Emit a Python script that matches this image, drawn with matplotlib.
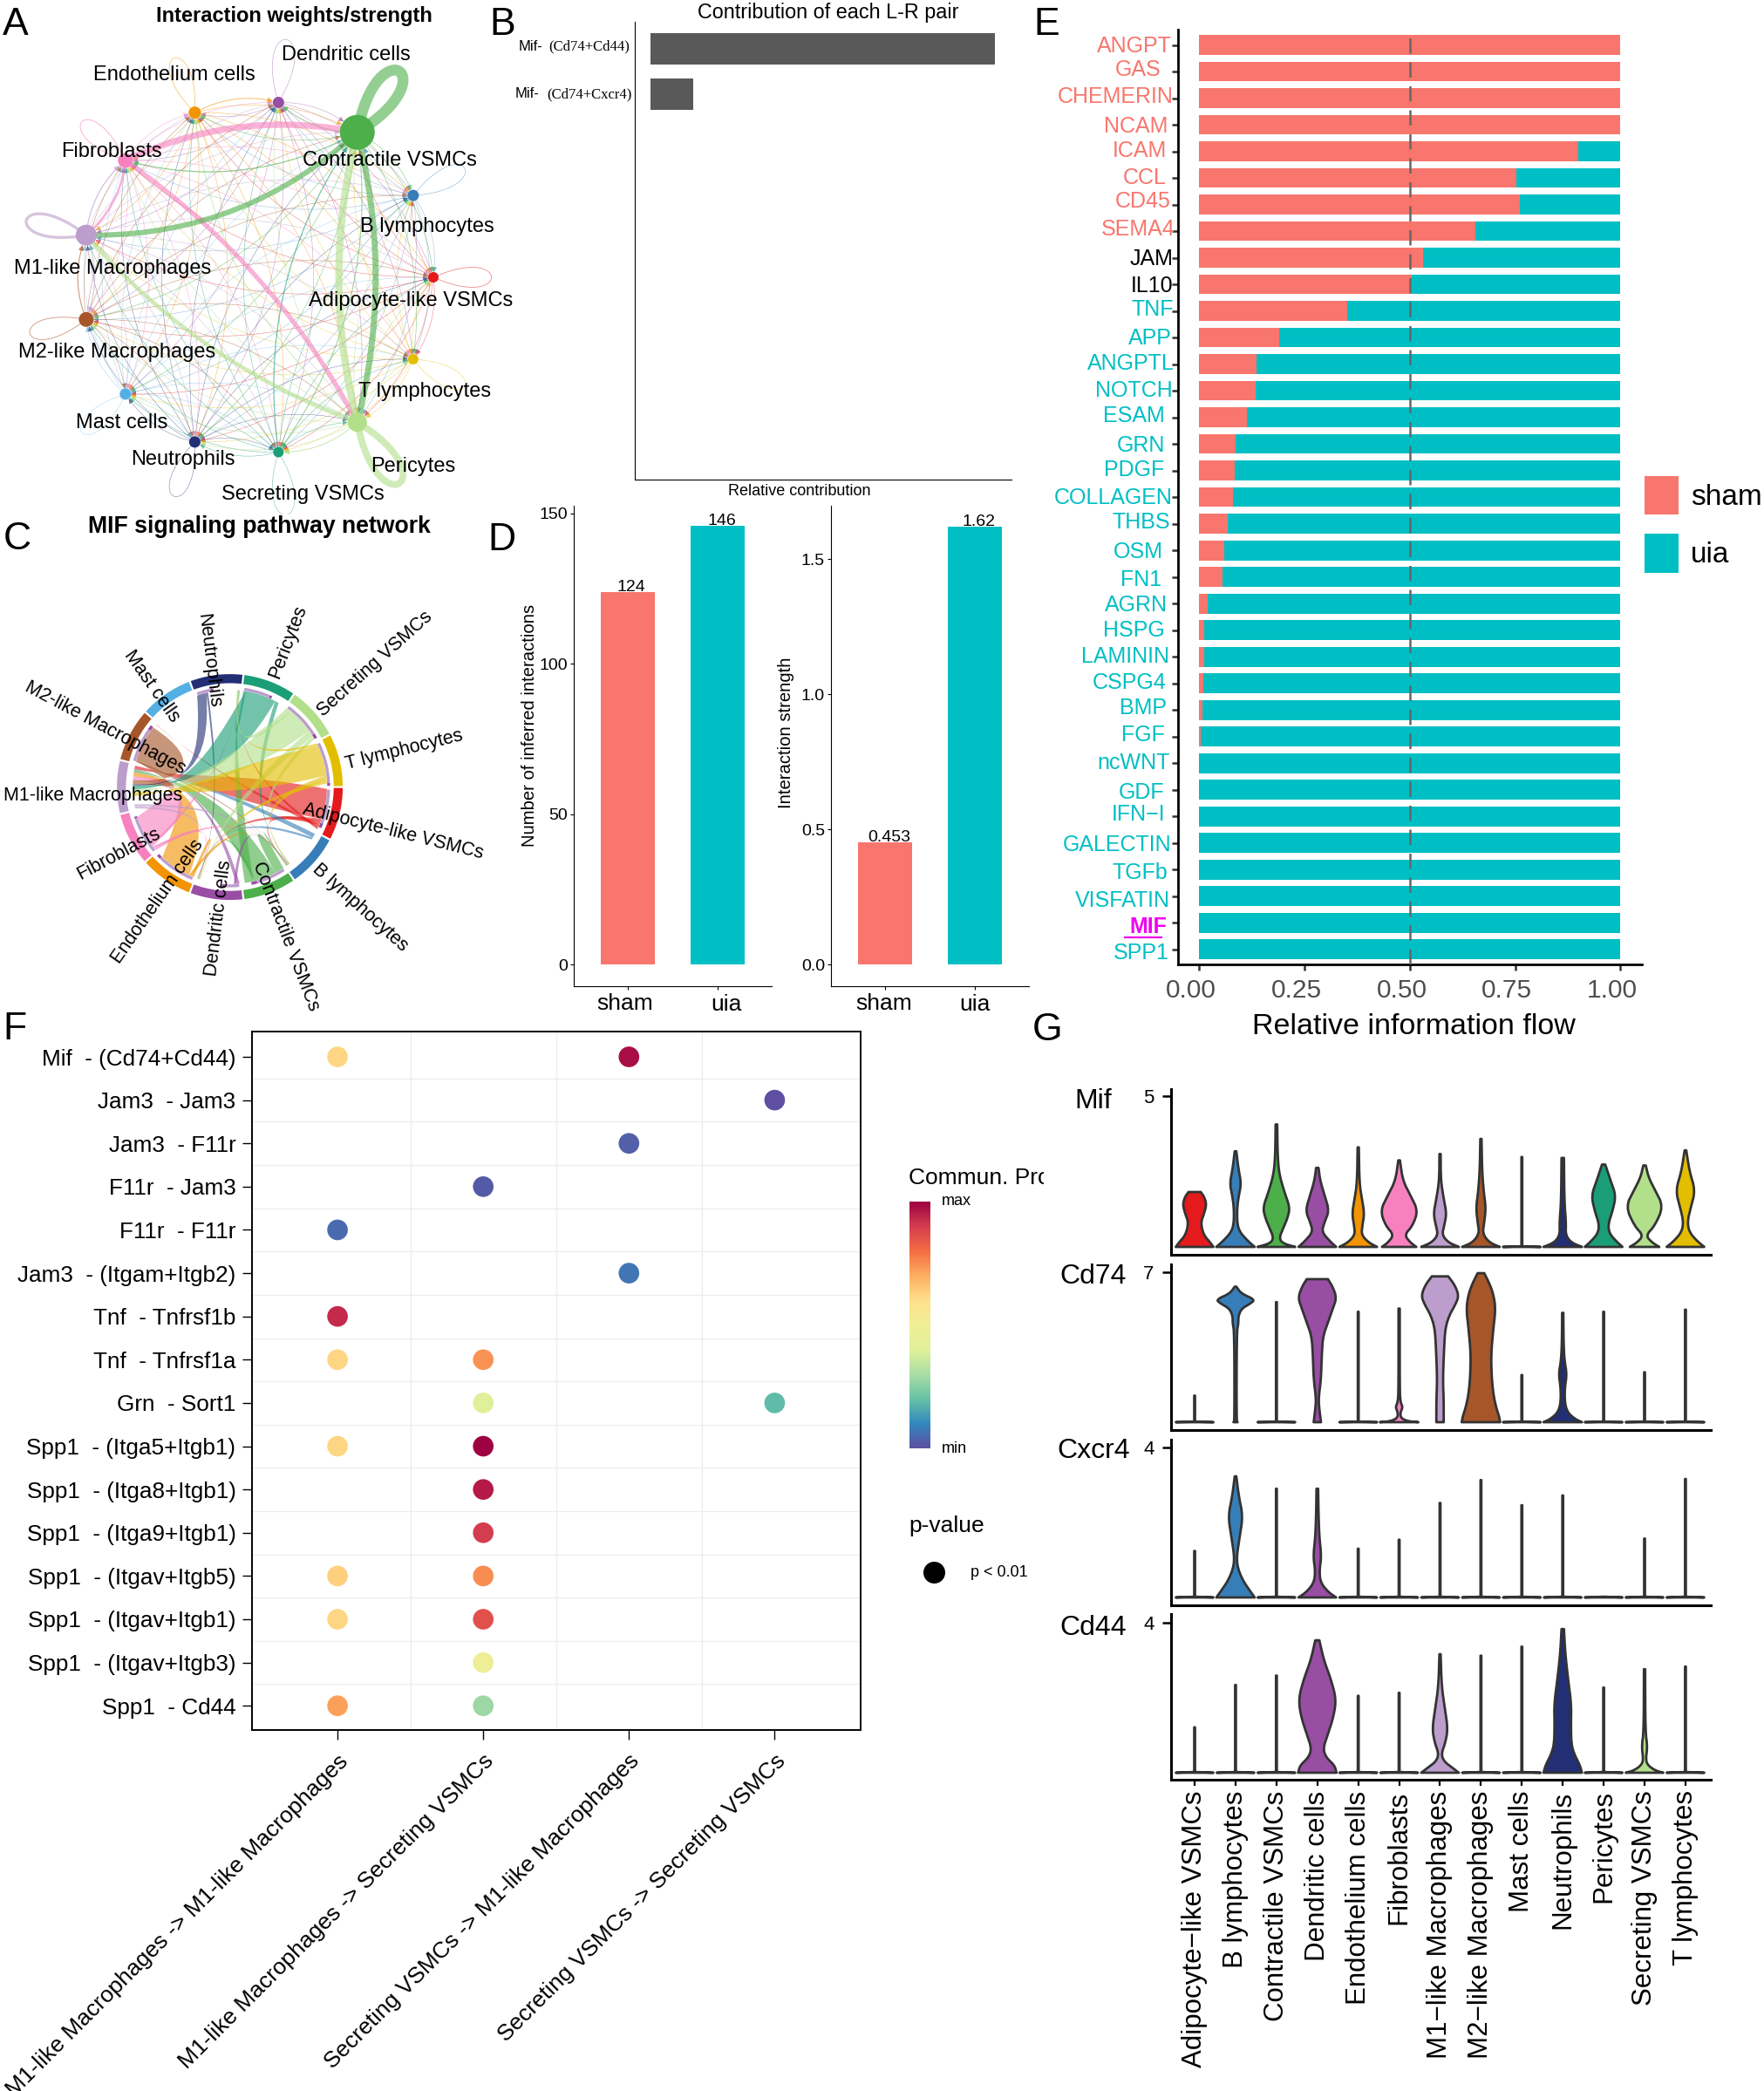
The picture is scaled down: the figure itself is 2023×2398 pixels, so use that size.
import numpy as np
import matplotlib
matplotlib.use('Agg')
import matplotlib.pyplot as plt
from matplotlib.patches import FancyArrowPatch, PathPatch, Wedge, Patch
from matplotlib.path import Path
from matplotlib.lines import Line2D
from matplotlib.transforms import Bbox
from matplotlib.cm import ScalarMappable
from matplotlib.colors import Normalize, LinearSegmentedColormap

plt.rcParams['font.family'] = ['Liberation Sans', 'DejaVu Sans']

W, H = 2024, 2398

# cell types, same order everywhere
cells = ['Adipocyte-like VSMCs', 'B lymphocytes', 'Contractile VSMCs', 'Dendritic cells',
         'Endothelium cells', 'Fibroblasts', 'M1-like Macrophages', 'M2-like Macrophages',
         'Mast cells', 'Neutrophils', 'Pericytes', 'Secreting VSMCs', 'T lymphocytes']
cell_colors = ['#E41A1C', '#377EB8', '#4DAF4A', '#984EA3', '#F29403', '#F781BF', '#BC9DCC',
               '#A65628', '#54B0E4', '#222F75', '#1B9E77', '#B2DF8A', '#E3BE00']
sham_color = '#F8766D'
uia_color = '#00BFC4'

# panel A
node_size_px = [12, 13, 40, 13, 14, 17, 24, 17, 13, 13, 12, 22, 12]
thin_width = [0.35, 0.3, 0.45, 0.35, 0.4, 0.4, 0.4, 0.4, 0.3, 0.35, 0.4, 0.45, 0.35]
strong_edges = [(5, 2, 5.2), (2, 11, 5.0), (11, 2, 6.0), (2, 6, 4.4), (11, 6, 3.4), (5, 11, 3.8),
                (5, 6, 1.9), (6, 5, 1.0), (6, 7, 0.8), (7, 6, 0.8), (11, 4, 0.7), (4, 3, 0.7),
                (2, 5, 0.9), (2, 3, 0.7), (10, 2, 0.9), (11, 10, 0.8), (2, 10, 0.7)]
strong_rad = [-0.165, -0.127, -0.127, -0.2, -0.13, -0.12, -0.2, -0.2, -0.2, -0.2, -0.2, -0.2, -0.2, -0.2, -0.2,
              -0.2, -0.2]
self_width = [0.5, 0.4, 9.0, 0.4, 0.5, 0.7, 2.4, 0.6, 0.3, 0.4, 0.4, 5.6, 0.4]
self_tip = [0.33, 0.33, 0.42, 0.36, 0.33, 0.33, 0.35, 0.33, 0.33, 0.33, 0.36, 0.42, 0.33]
a_labels = ['Dendritic cells', 'Endothelium cells', 'Fibroblasts', 'Contractile VSMCs', 'B lymphocytes',
            'M1-like Macrophages', 'Adipocyte-like VSMCs', 'M2-like Macrophages', 'T lymphocytes',
            'Mast cells', 'Neutrophils', 'Pericytes', 'Secreting VSMCs']
a_label_xy = [(397, 63), (200, 86), (128, 174), (447, 184), (490, 260), (129, 308), (471, 345),
              (134, 404), (487, 449), (140, 485), (210, 527), (474, 535), (347, 567)]

# panel B
lr_pairs = ['(Cd74+Cd44)', '(Cd74+Cxcr4)']
lr_values = [1.0, 0.123]

# panel C
sector_sizes = [1] * 13
links = [(0, 6, .70), (0, 3, .07), (0, 1, .08), (0, 7, .06), (0, 9, .05),
         (1, 6, .10), (1, 3, .05),
         (2, 1, .22), (2, 6, .48), (2, 3, .06), (2, 9, .20),
         (3, 6, .08), (3, 1, .06),
         (4, 3, .06), (4, 1, .06), (4, 6, .74),
         (5, 3, .06), (5, 1, .05), (5, 9, .05), (5, 6, .72),
         (6, 3, .05), (6, 1, .05),
         (7, 1, .03), (7, 6, .86),
         (9, 6, .22), (9, 3, .04),
         (10, 9, .05), (10, 6, .72), (10, 1, .09),
         (11, 9, .12), (11, 6, .62), (11, 3, .14), (11, 1, .08),
         (12, 9, .05), (12, 6, .72), (12, 1, .10), (12, 3, .08)]
track_m1 = [.72, .0, .62, .30, .80, .78, .0, .72, .0, .30, .55, .78, .86]
track_dc = [.10, .0, .12, .06, .08, .04, .0, .10, .0, .05, .05, .10, .06]
c_labels = ['T lymphocytes', 'Secreting VSMCs', 'Pericytes', 'Neutrophils', 'Mast cells',
            'M2-like Macrophages', 'M1-like Macrophages', 'Fibroblasts', 'Endothelium cells',
            'Dendritic cells', 'Contractile VSMCs', 'B lymphocytes', 'Adipocyte-like VSMCs']
c_label_xy = [(463, 860), (430, 761), (330, 736), (239, 758), (174, 787), (121, 835), (107, 912),
              (136, 979), (181, 1034), (251, 1053), (328, 1074), (413, 1041), (451, 954)]
c_label_rot = [14, 42, 69, -83, -55, -28, 0, 28, 55, 83, -69, -42, -14]

# panel D
groups = ['sham', 'uia']
n_interactions = [124, 146]
strength = [0.453, 1.62]

# panel E
pathways = ['ANGPT', 'GAS', 'CHEMERIN', 'NCAM', 'ICAM', 'CCL', 'CD45', 'SEMA4', 'JAM', 'IL10', 'TNF', 'APP',
            'ANGPTL', 'NOTCH', 'ESAM', 'GRN', 'PDGF', 'COLLAGEN', 'THBS', 'OSM', 'FN1', 'AGRN', 'HSPG',
            'LAMININ', 'CSPG4', 'BMP', 'FGF', 'ncWNT', 'GDF', 'IFN\u2212I', 'GALECTIN', 'TGFb', 'VISFATIN',
            'MIF', 'SPP1']
sham_flow = [1, 1, 1, 1, .90, .753, .762, .656, .531, .504, .352, .19, .136, .135, .114, .087, .085, .081,
             .068, .06, .055, .021, .012, .012, .011, .008, .0045, .0005, 0, 0, 0, 0, 0, 0, 0]
# hand placed labels in the original, gaps from axis line and shift from the bar, px
path_gap = [6, 18, 4, 11, 12, 12, 7, 2, 5, 5, 4, 6, 3, 5, 14, 14, 15, 5, 8, 16, 18, 11, 14, 9, 12, 12, 14, 8,
            15, 14, 7, 11, 8, 12, 9]
path_shift = [-1, -4, -4, 0, -2, -2, -5, -4, 0, 0, -3, -1, -2, -2, -4, 0, -2, -1, -3, 0, 1, 0, -1, -2, -2, -4,
              -3, -2, 1, -4, 0, 2, 3, 3, 2]

# panel F
lr_rows = ['Mif  - (Cd74+Cd44)', 'Jam3  - Jam3', 'Jam3  - F11r', 'F11r  - Jam3', 'F11r  - F11r',
           'Jam3  - (Itgam+Itgb2)', 'Tnf  - Tnfrsf1b', 'Tnf  - Tnfrsf1a', 'Grn  - Sort1',
           'Spp1  - (Itga5+Itgb1)', 'Spp1  - (Itga8+Itgb1)', 'Spp1  - (Itga9+Itgb1)',
           'Spp1  - (Itgav+Itgb5)', 'Spp1  - (Itgav+Itgb1)', 'Spp1  - (Itgav+Itgb3)', 'Spp1  - Cd44']
lr_cols = ['M1-like Macrophages -> M1-like Macrophages', 'M1-like Macrophages -> Secreting VSMCs',
           'Secreting VSMCs -> M1-like Macrophages', 'Secreting VSMCs -> Secreting VSMCs']
dot_row = [0, 0, 1, 2, 3, 4, 5, 6, 7, 7, 8, 8, 9, 9, 10, 11, 12, 12, 13, 13, 14, 15, 15]
dot_col = [0, 2, 3, 2, 1, 0, 2, 0, 0, 1, 1, 3, 0, 1, 1, 1, 0, 1, 0, 1, 1, 0, 1]
dot_val = [.62, .98, 0, .03, .02, .05, .07, .93, .62, .74, .40, .19, .62, 1.0, .96, .90, .63, .75, .62, .86,
           .48, .72, .28]
prob_colors = ['#5E4FA2', '#3288BD', '#66C2A5', '#ABDDA4', '#E0F09A', '#F0EE95', '#FEE08B', '#FDAE61', '#F46D43',
               '#D53E4F', '#9E0142']


# panel G, each violin is heights and half widths
def spike(top):
    return ([0, .02, top], [.46, .01, .01])


mif_violins = [
    ([0, .15, .4, .8, 1.1, 1.4, 1.65, 1.82], [.46, .38, .22, .15, .23, .29, .24, .15]),
    ([0, .2, .5, .8, 1.3, 1.7, 2.1, 2.6, 3.17], [.47, .3, .1, .04, .04, .08, .14, .07, .02]),
    ([0, .12, .3, .6, .95, 1.3, 1.8, 2.4, 3, 4.06], [.46, .15, .07, .16, .27, .33, .2, .07, .03, .02]),
    ([0, .2, .5, .8, 1.2, 1.7, 2.2, 2.62], [.46, .3, .11, .17, .29, .18, .07, .03]),
    ([0, .15, .4, .7, 1.1, 1.6, 2.1, 3.3], [.46, .25, .08, .1, .15, .09, .03, .015]),
    ([0, .15, .4, .7, 1.2, 1.7, 2.2, 2.87], [.42, .27, .13, .33, .46, .28, .09, .02]),
    ([0, .15, .4, .7, 1.1, 1.6, 2.2, 3.08], [.46, .2, .05, .1, .16, .09, .02, .015]),
    ([0, .15, .45, .8, 1.3, 1.8, 2.5, 3.58], [.46, .2, .04, .08, .12, .07, .03, .015]),
    spike(2.98),
    ([0, .15, .4, .8, 1.5, 2.95], [.47, .2, .07, .08, .04, .03]),
    ([0, .2, .45, .75, 1.2, 1.7, 2.2, 2.73], [.46, .3, .14, .11, .22, .3, .17, .04]),
    ([0, .15, .38, .7, 1.34, 1.9, 2.3, 2.7], [.36, .18, .03, .25, .46, .25, .1, .03]),
    ([0, .2, .5, .85, 1.3, 1.87, 2.5, 3.2], [.46, .28, .09, .05, .13, .24, .1, .02]),
]
cd74_violins = [
    spike(1.24),
    ([0, .1, 4.2, 4.6, 4.95, 5.3, 5.55, 5.72, 6.0, 6.32], [.05, .025, .03, .07, .07, .15, .38, .47, .14, .02]),
    spike(5.6),
    ([0, .6, 1.1, 2, 3.2, 4, 4.6, 5.3, 5.8, 6.3, 6.67], [.09, .05, .03, .09, .11, .14, .25, .38, .47, .38, .26]),
    spike(5.15),
    ([0, .05, .2, .45, .7, .95, 1.6, 5.3], [.47, .2, .04, .03, .09, .03, .015, .015]),
    ([0, 1, 2, 3.5, 4.4, 5, 5.5, 5.9, 6.4, 6.8], [.09, .09, .07, .1, .13, .23, .38, .46, .36, .2]),
    ([0, .3, .7, 1.35, 2.2, 3.2, 4.3, 5.3, 6, 6.5, 6.95], [.47, .44, .37, .3, .26, .25, .3, .36, .3, .2, .08]),
    spike(2.2),
    ([0, .15, .45, .9, 1.6, 2.24, 2.9, 3.8, 5.1], [.47, .3, .12, .05, .05, .1, .04, .02, .015]),
    spike(5.15),
    spike(2.33),
    spike(5.25),
]
cxcr4_violins = [
    spike(1.24),
    ([0, .15, .45, .8, 1.1, 1.6, 2.17, 2.7, 3.23], [.47, .37, .18, .05, .03, .1, .18, .08, .02]),
    spike(2.9),
    ([0, .15, .4, .7, 1.1, 1.6, 2.2, 2.9], [.46, .26, .08, .05, .1, .05, .03, .02]),
    spike(1.3),
    spike(1.54),
    spike(2.52),
    spike(3.13),
    spike(2.46),
    spike(2.72),
    spike(.02),
    spike(1.57),
    spike(3.16),
]
cd44_violins = [
    spike(1.21),
    spike(2.34),
    spike(2.59),
    ([0, .2, .4, .64, 1, 1.5, 1.97, 2.5, 3, 3.53], [.47, .42, .22, .14, .25, .4, .46, .33, .16, .05]),
    spike(2.05),
    spike(2.13),
    ([0, .15, .3, .5, .8, 1.17, 1.7, 2.3, 3.16], [.46, .28, .1, .03, .13, .19, .12, .04, .015]),
    spike(3.12),
    spike(3.36),
    ([0, .2, .5, .77, 1.3, 1.83, 2.5, 3.2, 3.83], [.47, .42, .28, .21, .2, .21, .13, .06, .03]),
    spike(2.27),
    ([0, .06, .2, .35, .7, 1.1, 2.76], [.46, .26, .08, .03, .07, .02, .015]),
    spike(2.83),
]
genes = ['Mif', 'Cd74', 'Cxcr4', 'Cd44']
gene_top = [5, 7, 4, 4]
gene_violins = [mif_violins, cd74_violins, cxcr4_violins, cd44_violins]
gene_ylim = [(-.26, 5.23), (-.366, 7.36), (-.198, 4.22), (-.186, 4.23)]
gene_box = [(1249, 1439), (1450, 1640), (1650.5, 1840.5), (1851, 2041)]
gene_label_xy = [(1254, 1263), (1254, 1464), (1254, 1664), (1254, 1867)]

fig = plt.figure(figsize=(W / 100, H / 100), dpi=100, facecolor='white')


def box(x0, y0, x1, y1):
    # axes from pixel corners, y counted from the top
    return fig.add_axes([x0 / W, 1 - y1 / H, (x1 - x0) / W, (y1 - y0) / H])


def txt(x, y, s, **kw):
    kw.setdefault('ha', 'center')
    kw.setdefault('va', 'center')
    return fig.text(x / W, 1 - y / H, s, **kw)


# --- A network ---
R = 202
ax = box(0, 0, 600, 590)
ax.set_xlim((0 - 295) / R, (600 - 295) / R)
ax.set_ylim((318 - 590) / R, 318 / R)
ax.axis('off')
ang = np.arange(13) * 2 * np.pi / 13
nx, ny = np.cos(ang), np.sin(ang)
widths = {(i, j): (thin_width[i], -0.2) for i in range(13) for j in range(13) if i != j}
for (i, j, w), rad in zip(strong_edges, strong_rad):
    widths[(i, j)] = (w, rad)
for (i, j), (w, rad) in widths.items():
    style = '-|>,head_length=0.5,head_width=0.25' if w < 1.5 else '-'
    arrow = FancyArrowPatch((nx[i], ny[i]), (nx[j], ny[j]), connectionstyle='arc3,rad=%g' % rad, arrowstyle=style,
                            mutation_scale=7, lw=w, color=cell_colors[i], alpha=0.6, shrinkA=0,
                            shrinkB=node_size_px[j] * 0.36, zorder=2 + w / 10)
    ax.add_patch(arrow)
for i in range(13):
    tip = self_tip[i] / 0.75 / np.cos(np.radians(24))
    p1 = (nx[i] + tip * np.cos(ang[i] + np.radians(24)), ny[i] + tip * np.sin(ang[i] + np.radians(24)))
    p2 = (nx[i] + tip * np.cos(ang[i] - np.radians(24)), ny[i] + tip * np.sin(ang[i] - np.radians(24)))
    loop = Path([(nx[i], ny[i]), p1, p2, (nx[i], ny[i])], [Path.MOVETO, Path.CURVE4, Path.CURVE4, Path.CURVE4])
    ax.add_patch(PathPatch(loop, fc='none', ec=cell_colors[i], lw=self_width[i], alpha=0.6, zorder=3))
ax.scatter(nx, ny, s=(np.array(node_size_px) * 0.72) ** 2, c=cell_colors, zorder=5, lw=0)
for s, (x, y) in zip(a_labels, a_label_xy):
    txt(x, y, s, fontsize=17)
txt(337, 19, 'Interaction weights/strength', fontsize=17, fontweight='bold')

# --- B ---
ax = box(728, 25, 1160, 549.5)
ax.barh(range(len(lr_values)), lr_values, height=0.69, color='#595959')
ax.set_xlim(-0.0456, 1.048)
ax.set_ylim(9.49, -0.6)
ax.set_xticks([])
ax.set_yticks([])
for s in ['top', 'right']:
    ax.spines[s].set_visible(False)
txt(950, 14, 'Contribution of each L-R pair', fontsize=16.8)
txt(917, 564, 'Relative contribution', fontsize=13)
txt(722, 53, lr_pairs[0], fontsize=12, ha='right', family='Liberation Serif')
txt(725, 108, lr_pairs[1], fontsize=12, ha='right', family='Liberation Serif')
txt(622, 53, 'Mif-', fontsize=12, ha='right')
txt(618, 108, 'Mif-', fontsize=12, ha='right')

# --- C chord ---
R = 129.5
ax = box(0, 730, 600, 1170)
ax.set_xlim(-263.6 / R, (600 - 263.6) / R)
ax.set_ylim((902.6 - 1170) / R, (902.6 - 730) / R)
ax.axis('off')
span = 360 * np.array(sector_sizes) / np.sum(sector_sizes)
start = -np.concatenate([[0], np.cumsum(span)[:-1]])
gap = 0.5
r_in = 0.86
for i in range(13):
    a0, a1 = start[i] - gap, start[i] - span[i] + gap
    ax.add_patch(Wedge((0, 0), 1.0, a1, a0, width=0.08, fc=cell_colors[i], lw=0))
    s0 = a0 - 1
    s1 = s0 - track_m1[i] * span[i]
    s2 = s1 - track_dc[i] * span[i]
    if track_m1[i] > 0:
        ax.add_patch(Wedge((0, 0), 0.888, s1, s0, width=0.026, fc=cell_colors[6], lw=0))
        ax.add_patch(Wedge((0, 0), 0.888, s2, s1, width=0.026, fc=cell_colors[3], lw=0))


def polar(a, r=r_in):
    return np.array([r * np.cos(np.radians(a)), r * np.sin(np.radians(a))])


out_pos = start - gap - 0.6
in_pos = start - span + gap + 0.6
for src, tgt, val in links:
    a0 = out_pos[src]
    a1 = a0 - val * (span[src] - 2)
    out_pos[src] = a1
    t0 = in_pos[tgt]
    t1 = t0 + val * span[tgt] * 0.11
    in_pos[tgt] = t1
    arc = np.linspace(a0, a1, 14)
    mid = polar((a0 + a1) / 2)
    # keep the band wide on its way in, it only narrows near the target
    pull = -0.62 * mid + 0.18 * (polar(t0) - mid)
    verts = [polar(a) for a in arc]
    verts += [polar(a1) + pull, polar(t0, 0.40), polar(t0), polar(t1), polar(t1, 0.40), polar(a0) + pull, polar(a0),
              polar(a0)]
    codes = [Path.MOVETO] + [Path.LINETO] * 13 + [Path.CURVE4] * 3 + [Path.LINETO] + [Path.CURVE4] * 3 + [Path.CLOSEPOLY]
    ax.add_patch(PathPatch(Path(verts, codes), fc=cell_colors[src], alpha=0.62, lw=0, zorder=3))
for s, (x, y), rot in zip(c_labels, c_label_xy, c_label_rot):
    txt(x, y, s, fontsize=15.5, rotation=rot, rotation_mode='anchor')
txt(297, 604, 'MIF signaling pathway network', fontsize=19.2, fontweight='bold')

# --- D ---
for box_px, vals, ylim, ticks, fmt, name, ylab_xy, lab_x in [
    ((658, 580, 885, 1131), n_interactions, (-7.25, 152.6), [0, 50, 100, 150], '{:d}',
     'Number of inferred interactions', (608, 832), (717, 833)),
    ((953, 580, 1180, 1131), strength, (-0.08, 1.697), [0.0, 0.5, 1.0, 1.5], '{:.1f}',
     'Interaction strength', (902, 840), (1014, 1118)),
]:
    ax = box(*box_px)
    ax.bar([0, 1], vals, width=0.6, color=[sham_color, uia_color], zorder=3)
    for k, v in enumerate(vals):
        ax.annotate(str(v), (k, v), xytext=(3.2, 4), textcoords='offset points', ha='center', va='center',
                    fontsize=14, zorder=1)
    ax.set_xlim(-0.6, 1.6)
    ax.set_ylim(*ylim)
    ax.set_xticks([0, 1])
    ax.set_xticklabels([])
    ax.set_yticks(ticks)
    ax.set_yticklabels([fmt.format(t) for t in ticks], fontsize=14)
    ax.tick_params(axis='y', length=3, pad=2)
    ax.tick_params(axis='x', length=3, pad=2)
    for s in ['top', 'right']:
        ax.spines[s].set_visible(False)
    txt(ylab_xy[0], ylab_xy[1], name, fontsize=14.6, rotation=90)
    txt(lab_x[0], 1151, groups[0], fontsize=19)
    txt(lab_x[1], 1152, groups[1], fontsize=19)

# --- E ---
ax = box(1351, 34, 1882.5, 1106)
y = np.arange(len(pathways))
sham_flow = np.array(sham_flow)
ax.barh(y, sham_flow, height=0.75, color=sham_color)
ax.barh(y, 1 - sham_flow, left=sham_flow, height=0.75, color=uia_color)
ax.axvline(0.5, color='#666666', lw=1.8, ls=(0, (7, 4)), zorder=4)
ax.set_xlim(-0.05, 1.05)
ax.set_ylim(34.57, -0.574)
ax.set_yticks(y)
ax.set_yticklabels([])
ax.tick_params(axis='y', length=5, width=1.8, color='#333333')
ax.set_xticks([0, .25, .5, .75, 1])
ax.set_xticklabels([])
ax.tick_params(axis='x', length=5, width=1.8, color='#333333')
for s in ['top', 'right']:
    ax.spines[s].set_visible(False)
for s in ['left', 'bottom']:
    ax.spines[s].set_linewidth(2)
for k, name in enumerate(pathways):
    col = sham_color if k < 8 else ('black' if k < 10 else uia_color)
    if name == 'MIF':
        col = '#EE00EE'
    txt(1351 - path_gap[k] - 1, 53.5 + 30.5 * k + path_shift[k], name, ha='right', fontsize=18, color=col,
        fontweight='bold' if name == 'MIF' else 'normal')
fig.add_artist(Line2D([1290 / W, 1332 / W], [1 - 1074.5 / H, 1 - 1074.5 / H], color='#EE00EE', lw=1.6))
for v, s in zip([0, .25, .5, .75, 1], ['0.00', '0.25', '0.50', '0.75', '1.00']):
    txt(1375 + 483 * v - 9, 1136, s, fontsize=21.5, color='#4D4D4D')
txt(1621, 1178, 'Relative information flow', fontsize=24.5)
fig.legend(handles=[Patch(fc=sham_color, label='sham'), Patch(fc=uia_color, label='uia')], loc='upper left',
           bbox_to_anchor=(1886 / W, 1 - 546 / H), frameon=False, fontsize=24, handlelength=1.16, handleheight=1.67,
           labelspacing=0.66, handletextpad=0.44, borderpad=0, borderaxespad=0)

# --- F ---
ax = box(288.5, 1182.5, 987, 1984)
spectral = LinearSegmentedColormap.from_list('prob', prob_colors)
ax.scatter(dot_col, dot_row, s=290, c=dot_val, cmap=spectral, vmin=0, vmax=1, lw=0, zorder=3)
ax.set_xlim(-0.59, 3.59)
ax.set_ylim(15.56, -0.595)
ax.set_xticks(range(4))
ax.set_xticklabels(lr_cols, rotation=45, ha='right', va='top', rotation_mode='anchor', fontsize=19)
ax.set_yticks(range(16))
ax.set_yticklabels(lr_rows, fontsize=18.8)
ax.tick_params(axis='both', length=8, width=1)
ax.tick_params(axis='y', pad=5)
ax.tick_params(axis='x', pad=9)
ax.set_xticks(np.arange(0.5, 3), minor=True)
ax.set_yticks(np.arange(0.5, 15), minor=True)
ax.tick_params(which='minor', length=0)
ax.grid(which='minor', color='#EDEDED', lw=0.9)
ax.set_axisbelow(True)
for s in ax.spines.values():
    s.set_linewidth(1.4)
t = txt(1042, 1351, 'Commun. Prob.', fontsize=19, ha='left')
t.set_clip_box(Bbox([[1040, H - 1380], [1197, H - 1320]]))
t.set_clip_on(True)
cax = box(1043, 1378, 1067, 1661)
cb = fig.colorbar(ScalarMappable(Normalize(0, 1), spectral), cax=cax)
cb.set_ticks([])
cb.outline.set_visible(False)
txt(1080, 1378, 'max', fontsize=13, ha='left')
txt(1080, 1662, 'min', fontsize=13, ha='left')
txt(1042, 1750, 'p-value', fontsize=19, ha='left')
fig.add_artist(Line2D([1071 / W], [1 - 1803 / H], marker='o', ms=17, color='black', ls='none'))
txt(1113, 1803, 'p < 0.01', fontsize=13, ha='left')


# --- G ---
def smooth(ys, ws, rounds=2):
    # corner cutting so the violin outline is not angular
    p = np.column_stack([ys, ws])
    for _ in range(rounds):
        q = [p[0]]
        for a, b in zip(p[:-1], p[1:]):
            q.append(0.75 * a + 0.25 * b)
            q.append(0.25 * a + 0.75 * b)
        q.append(p[-1])
        p = np.array(q)
    return p[:, 0], p[:, 1]


for g, gene in enumerate(genes):
    ax = box(1343, gene_box[g][0], 1962, gene_box[g][1])
    for k, (ys, ws) in enumerate(gene_violins[g]):
        sy, sw = (np.array(ys), np.array(ws)) if len(ys) == 3 else smooth(ys, ws)
        ax.fill(np.r_[k + sw, (k - sw)[::-1]], np.r_[sy, sy[::-1]], fc=cell_colors[k], ec='#333333', lw=2,
                joinstyle='round')
    ax.set_xlim(-0.576, 12.62)
    ax.set_ylim(*gene_ylim[g])
    ax.set_yticks([gene_top[g]])
    ax.set_yticklabels([str(gene_top[g])], fontsize=16)
    ax.tick_params(axis='y', length=7, width=1.8, pad=7)
    for s in ['top', 'right']:
        ax.spines[s].set_visible(False)
    for s in ['left', 'bottom']:
        ax.spines[s].set_linewidth(2.2)
    if g == 3:
        ax.set_xticks(range(13))
        ax.set_xticklabels([c.replace('-', '\u2212') for c in cells], rotation=90, fontsize=22.5)
        ax.tick_params(axis='x', length=5, width=1.6, pad=4)
    else:
        ax.set_xticks([])
    txt(gene_label_xy[g][0], gene_label_xy[g][1], gene, fontsize=23)

# panel letters
for s, x, y in [('A', 3, 40), ('B', 561, 40), ('C', 4, 630), ('D', 559, 631), ('E', 1185, 40), ('F', 3, 1192),
                ('G', 1184, 1193)]:
    txt(x, y, s, fontsize=32, ha='left', va='baseline')

fig.savefig('out.png', dpi=100)
